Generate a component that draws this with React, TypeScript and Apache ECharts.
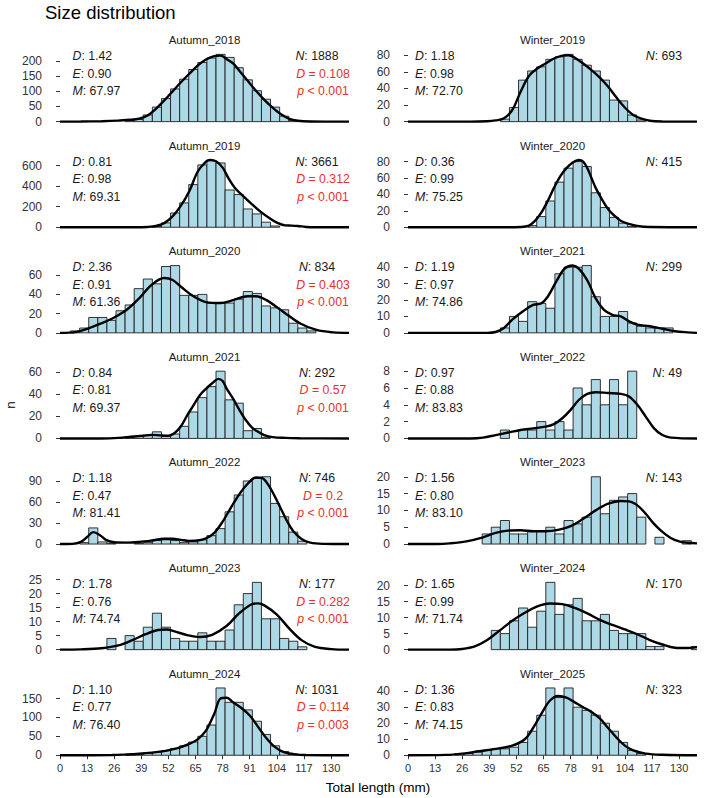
import { useEffect, useRef } from 'react';
import * as echarts from 'echarts';

const FONT = '"Liberation Sans", Arial, Helvetica, sans-serif';

// Histogram bin edges (mm) shared by every panel
const BIN_EDGES = [0.7, 5.06, 9.42, 13.78, 18.14, 22.5, 26.86, 31.22, 35.58, 39.94, 44.3, 48.66, 53.02, 57.38, 61.74, 66.1, 70.46, 74.82, 79.18, 83.54, 87.9, 92.26, 96.62, 100.98, 105.34, 109.7, 114.06, 118.42, 122.78, 127.14, 131.5, 135.86, 140.22];
const X_MIN = 0;
const X_MAX = 138.6;
const X_TICKS = [0, 13, 26, 39, 52, 65, 78, 91, 104, 117, 130];

const SAMPLES = [
  'Autumn_2018', 'Winter_2019',
  'Autumn_2019', 'Winter_2020',
  'Autumn_2020', 'Winter_2021',
  'Autumn_2021', 'Winter_2022',
  'Autumn_2022', 'Winter_2023',
  'Autumn_2023', 'Winter_2024',
  'Autumn_2024', 'Winter_2025',
];

// Fish counts per bin
const COUNTS_A2018 = [0, 0, 0, 0, 0, 0, 0, 4, 7, 22, 48, 76, 108, 140, 172, 195, 210, 222, 212, 178, 138, 102, 74, 48, 18, 4, 0, 0, 0, 0, 0, 0];
const COUNTS_W2019 = [0, 0, 0, 0, 0, 0, 0, 0, 0, 0, 3, 17, 50, 61, 66, 75, 78, 81, 75, 68, 61, 50, 26, 25, 8, 2, 0, 0, 0, 0, 0, 0];
const COUNTS_A2019 = [0, 0, 0, 0, 0, 0, 0, 0, 0, 0, 8, 42, 139, 237, 415, 607, 649, 626, 363, 318, 178, 130, 49, 12, 0, 0, 0, 0, 0, 0, 0, 0];
const COUNTS_W2020 = [0, 0, 0, 0, 0, 0, 0, 0, 0, 0, 0, 0, 0, 2, 13, 32, 55, 72, 80, 74, 42, 24, 12, 5, 1, 0, 0, 0, 0, 0, 0, 0];
const COUNTS_A2020 = [0, 2, 5, 16, 16, 13, 23, 29, 46, 56, 51, 69, 70, 39, 39, 40, 31, 31, 31, 35, 43, 41, 28, 26, 24, 10, 5, 2, 0, 0, 0, 0];
const COUNTS_W2021 = [0, 0, 0, 0, 0, 0, 0, 0, 0, 0, 3, 10, 7, 19, 18, 15, 36, 40, 40, 41, 22, 10, 10, 13, 6, 4, 3, 3, 3, 0, 0, 0];
const COUNTS_A2021 = [0, 0, 0, 0, 0, 0, 0, 1, 2, 3, 6, 2, 4, 11, 24, 37, 47, 61, 35, 32, 7, 9, 1, 0, 0, 0, 0, 0, 0, 0, 0, 0];
const COUNTS_W2022 = [0, 0, 0, 0, 0, 0, 0, 0, 0, 0, 1, 0, 1, 1, 2, 1, 2, 1, 6, 4, 7, 4, 7, 4, 8, 0, 0, 0, 0, 0, 0, 0];
const COUNTS_A2022 = [0, 0, 2, 23, 3, 1, 0, 0, 1, 2, 5, 6, 5, 2, 3, 6, 12, 22, 46, 70, 90, 94, 96, 58, 39, 17, 4, 0, 0, 0, 0, 0];
const COUNTS_W2023 = [0, 0, 0, 0, 0, 0, 0, 0, 3, 5, 7, 3, 3, 4, 4, 5, 3, 7, 6, 8, 20, 9, 13, 14, 15, 8, 0, 2, 0, 0, 1, 0];
const COUNTS_A2023 = [0, 0, 0, 0, 0, 4, 0, 5, 3, 8, 13, 8, 4, 3, 3, 6, 3, 3, 7, 16, 20, 24, 11, 11, 4, 3, 1, 0, 0, 0, 0, 0];
const COUNTS_W2024 = [0, 0, 0, 0, 0, 0, 0, 0, 0, 6, 5, 9, 13, 7, 12, 21, 11, 14, 16, 9, 9, 11, 6, 5, 5, 5, 1, 1, 0, 0, 0, 1];
const COUNTS_A2024 = [0, 0, 0, 0, 0, 0, 0, 2, 3, 6, 8, 12, 18, 25, 35, 50, 80, 178, 140, 140, 120, 90, 55, 25, 10, 3, 0, 0, 0, 0, 0, 0];
const COUNTS_W2025 = [0, 0, 0, 0, 0, 1, 1, 2, 3, 4, 4, 5, 8, 15, 25, 42, 36, 42, 30, 28, 25, 20, 15, 8, 3, 1, 0, 0, 0, 0, 0, 0];

// Kernel density curves, scaled to counts: [length, n]
const DENS_A2018 = [[0, 0], [10, 0.3], [20, 1.5], [28, 3.5], [34, 6], [38, 10], [42, 20], [46, 42], [50, 70], [54, 100], [58, 130], [62, 158], [66, 185], [70, 205], [74, 216], [77, 218], [80, 206], [83, 192], [86, 168], [90, 135], [94, 102], [98, 72], [102, 46], [106, 24], [110, 9], [114, 3], [120, 0.5], [130, 0], [138.6, 0]];
const DENS_W2019 = [[0, 0], [30, 0], [38, 0.5], [42, 1.5], [46, 4], [50, 14], [54, 36], [58, 55], [62, 64], [66, 70], [70, 76], [74, 79.5], [77, 80], [80, 77], [84, 70], [88, 62], [92, 53], [96, 42], [100, 29], [104, 17], [108, 8], [112, 3.5], [116, 1], [122, 0.2], [138.6, 0]];
const DENS_A2019 = [[0, 0], [36, 0], [42, 3], [46, 12], [50, 40], [54, 105], [58, 210], [62, 350], [66, 540], [70, 640], [72, 655], [75, 640], [78, 580], [81, 470], [84, 380], [88, 300], [92, 225], [96, 155], [100, 95], [104, 45], [108, 18], [111, 16], [114, 12], [118, 3], [124, 0.5], [138.6, 0]];
const DENS_W2020 = [[0, 0], [48, 0], [54, 0.3], [58, 2], [61, 8], [64, 18], [67, 32], [70, 48], [73, 62], [76, 72], [79, 79], [82, 82], [84, 80], [86, 72], [88, 60], [90, 48], [93, 34], [96, 22], [99, 14], [102, 8], [106, 4], [110, 1.5], [116, 0.3], [138.6, 0]];
const DENS_A2020 = [[0, 0], [8, 1], [14, 5], [20, 10], [26, 16], [32, 24], [38, 36], [44, 50], [50, 57], [54, 55], [58, 48], [64, 38], [70, 32], [77, 31], [83, 34], [90, 38], [94, 38], [99, 34], [107, 22], [115, 10], [123, 3], [131, 0.5], [138.6, 0]];
const DENS_W2021 = [[0, 0], [38, 0], [42, 0.5], [46, 3], [50, 8], [55, 13], [60, 17], [64, 18], [67, 22], [71, 31], [75, 39], [79, 41], [82, 39], [86, 32], [90, 21], [94, 14], [98, 11], [102, 10], [106, 7], [110, 5], [116, 4], [122, 2.5], [128, 1], [134, 0.3], [138.6, 0]];
const DENS_A2021 = [[0, 0], [20, 0], [28, 0.5], [34, 1.5], [40, 2.5], [44, 3.2], [48, 2.8], [52, 2.5], [55, 5], [58, 11], [61, 21], [64, 30], [67, 39], [70, 45], [73, 50], [76, 54], [78, 52], [80, 45], [83, 36], [86, 26], [89, 17], [92, 10], [95, 6], [98, 3], [102, 1.2], [108, 0.5], [115, 0.2], [138.6, 0]];
const DENS_W2022 = [[0, 0], [30, 0], [36, 0.1], [42, 0.4], [48, 0.7], [54, 1.0], [60, 1.2], [66, 1.4], [70, 1.7], [74, 2.4], [78, 3.4], [82, 4.6], [86, 5.3], [90, 5.5], [96, 5.4], [102, 5.3], [106, 5.0], [110, 4.0], [114, 2.6], [118, 1.2], [122, 0.4], [126, 0.1], [138.6, 0]];
const DENS_A2022 = [[0, 0], [6, 0.3], [10, 3], [13, 10], [16, 17], [19, 13], [22, 6], [26, 2.5], [32, 2], [38, 3], [44, 5], [50, 7.5], [54, 7.5], [58, 6], [62, 4.5], [66, 5], [70, 8], [74, 16], [78, 32], [82, 52], [86, 71], [90, 86], [94, 95], [97, 94], [100, 84], [103, 68], [106, 50], [109, 32], [112, 18], [116, 7], [120, 2], [126, 0.3], [138.6, 0]];
const DENS_W2023 = [[0, 0], [14, 0], [20, 0.2], [28, 0.8], [36, 2], [42, 3.3], [48, 4], [54, 4.1], [60, 3.8], [66, 3.8], [72, 4.2], [78, 5.3], [84, 7.5], [90, 10], [96, 12], [102, 12.8], [106, 12.7], [110, 11.5], [114, 9], [118, 6], [122, 3.6], [126, 1.8], [130, 0.8], [134, 0.4], [138.6, 0.2]];
const DENS_A2023 = [[0, 0], [10, 0.1], [20, 0.5], [28, 1.5], [35, 3.5], [41, 5.5], [47, 7], [51, 7.2], [55, 6.5], [61, 5.2], [67, 4.5], [73, 5.3], [80, 8.5], [86, 13], [92, 16.2], [95, 16.5], [98, 15.8], [104, 12.5], [110, 7.5], [116, 3.3], [122, 1.1], [130, 0.2], [138.6, 0]];
const DENS_W2024 = [[0, 0], [20, 0], [26, 0.2], [32, 1], [38, 3], [44, 6], [50, 9], [56, 11.5], [62, 13.5], [68, 14.4], [74, 14.2], [80, 13], [86, 11.3], [92, 9.3], [98, 7.7], [104, 6.3], [110, 4.8], [116, 3], [122, 1.6], [128, 0.6], [134, 0.5], [138.6, 0.8]];
const DENS_A2024 = [[0, 0], [25, 0.5], [32, 2], [38, 4], [44, 7], [50, 11], [56, 18], [62, 30], [66, 42], [70, 65], [74, 110], [77, 150], [80, 152], [83, 140], [87, 125], [91, 105], [95, 75], [99, 45], [103, 22], [107, 9], [112, 3], [118, 0.5], [138.6, 0]];
const DENS_W2025 = [[0, 0], [18, 0.2], [26, 1], [34, 2.5], [42, 4], [50, 6], [56, 10], [60, 17], [64, 26], [68, 34], [72, 37], [76, 36], [80, 33], [84, 30], [88, 27], [92, 23], [96, 17], [100, 11], [104, 6], [108, 3], [114, 1], [122, 0.3], [138.6, 0]];

// y tick values per panel
const Y_TICKS = [
  [0, 50, 100, 150, 200], [0, 20, 40, 60, 80],
  [0, 200, 400, 600], [0, 20, 40, 60, 80],
  [0, 20, 40, 60], [0, 10, 20, 30, 40],
  [0, 20, 40, 60], [0, 2, 4, 6, 8],
  [0, 30, 60, 90], [0, 5, 10, 15, 20],
  [0, 5, 10, 15, 20, 25], [0, 5, 10, 15, 20],
  [0, 50, 100, 150], [0, 10, 20, 30, 40],
];

// Per-sample statistics
const STAT_D = ['1.42', '1.18', '0.81', '0.36', '2.36', '1.19', '0.84', '0.97', '1.18', '1.56', '1.78', '1.65', '1.10', '1.36'];
const STAT_E = ['0.90', '0.98', '0.98', '0.99', '0.91', '0.97', '0.81', '0.88', '0.47', '0.80', '0.76', '0.99', '0.77', '0.83'];
const STAT_M = ['67.97', '72.70', '69.31', '75.25', '61.36', '74.86', '69.37', '83.83', '81.41', '83.10', '74.74', '71.74', '76.40', '74.15'];
const STAT_N = ['1888', '693', '3661', '415', '834', '299', '292', '49', '746', '143', '177', '170', '1031', '323'];
const KS_D = ['0.108', '', '0.312', '', '0.403', '', '0.57', '', '0.2', '', '0.282', '', '0.114', ''];
const KS_P = ['< 0.001', '', '< 0.001', '', '< 0.001', '', '< 0.001', '', '< 0.001', '', '< 0.001', '', '= 0.003', ''];

const COUNTS = [COUNTS_A2018, COUNTS_W2019, COUNTS_A2019, COUNTS_W2020, COUNTS_A2020, COUNTS_W2021, COUNTS_A2021, COUNTS_W2022, COUNTS_A2022, COUNTS_W2023, COUNTS_A2023, COUNTS_W2024, COUNTS_A2024, COUNTS_W2025];
const DENSITY = [DENS_A2018, DENS_W2019, DENS_A2019, DENS_W2020, DENS_A2020, DENS_W2021, DENS_A2021, DENS_W2022, DENS_A2022, DENS_W2023, DENS_A2023, DENS_W2024, DENS_A2024, DENS_W2025];

// Panel layout (px)
const COL_LEFT = [60, 408];
const PANEL_W = 289;
const PANEL_H = 74;
const ROW_TOP0 = 51;
const ROW_STEP = 105.6;
const STAT_X = [72.5, 415];
const N_X = [317, 682];
const N_ALIGN = ['center', 'right'];
const KS_X = 323;

const INK = '#1a1a1a';
const RED = '#e8302c';

function richText(x: number, y: number, text: string, color: string, align: string, size = 12.3) {
  return {
    type: 'text',
    x,
    y,
    silent: true,
    style: {
      text,
      fill: color,
      fontSize: size,
      fontFamily: FONT,
      align,
      verticalAlign: 'middle',
      rich: {
        i: { fontStyle: 'italic', fontSize: size, fontFamily: FONT, fill: color },
      },
    },
  };
}

function buildOption() {
  const grid: any[] = [];
  const xAxis: any[] = [];
  const yAxis: any[] = [];
  const series: any[] = [];
  const graphic: any[] = [];

  SAMPLES.forEach((name, i) => {
    const row = Math.floor(i / 2);
    const col = i % 2;
    const top = ROW_TOP0 + row * ROW_STEP;
    const left = COL_LEFT[col];
    const counts = COUNTS[i];
    const dens = DENSITY[i];
    const peak = Math.max(...counts, ...dens.map((d) => d[1]));
    const bottomRow = row === 6;

    grid.push({ left, top, width: PANEL_W, height: PANEL_H, containLabel: false, outerBoundsMode: 'none' });
    xAxis.push({
      type: 'value',
      gridIndex: i,
      min: X_MIN,
      max: X_MAX,
      axisLine: { show: false },
      splitLine: { show: false },
      axisTick: { show: bottomRow, customValues: X_TICKS, length: 4, lineStyle: { color: '#333', width: 1 } },
      axisLabel: { show: bottomRow, customValues: X_TICKS, fontSize: 11, color: '#333', margin: 4, fontFamily: FONT },
    });
    yAxis.push({
      type: 'value',
      gridIndex: i,
      min: -0.05 * peak,
      max: 1.05 * peak,
      offset: 15,
      axisLine: { show: false },
      splitLine: { show: false },
      axisTick: { show: true, customValues: Y_TICKS[i], length: 4, lineStyle: { color: '#333', width: 1 } },
      axisLabel: { customValues: Y_TICKS[i], fontSize: 12, color: '#333', margin: 3, fontFamily: FONT },
    });

    const bars = counts
      .map((c, k) => [BIN_EDGES[k], BIN_EDGES[k + 1], c])
      .filter((b) => b[2] > 0);

    series.push({
      type: 'custom',
      name,
      xAxisIndex: i,
      yAxisIndex: i,
      clip: true,
      encode: { x: [0, 1], y: 2 },
      data: bars,
      renderItem: (_params: any, api: any) => {
        const p0 = api.coord([api.value(0), api.value(2)]);
        const p1 = api.coord([api.value(1), 0]);
        return {
          type: 'rect',
          shape: { x: p0[0], y: p0[1], width: p1[0] - p0[0], height: p1[1] - p0[1] },
          style: { fill: '#add8e6', stroke: '#1e1e1e', lineWidth: 0.9 },
        };
      },
      z: 2,
    });
    series.push({
      type: 'line',
      xAxisIndex: i,
      yAxisIndex: i,
      data: dens,
      smooth: 0.35,
      symbol: 'none',
      clip: true,
      lineStyle: { color: '#000', width: 2.4 },
      z: 3,
    });

    // strip title
    graphic.push({
      type: 'text',
      x: left + PANEL_W / 2,
      y: top - 11,
      silent: true,
      style: { text: name, fill: INK, fontSize: 11.5, fontFamily: FONT, align: 'center', verticalAlign: 'middle' },
    });
    // diversity statistics
    graphic.push(richText(STAT_X[col], top + 5, `{i|D}: ${STAT_D[i]}`, INK, 'left'));
    graphic.push(richText(STAT_X[col], top + 22.5, `{i|E}: ${STAT_E[i]}`, INK, 'left'));
    graphic.push(richText(STAT_X[col], top + 40, `{i|M}: ${STAT_M[i]}`, INK, 'left'));
    graphic.push(richText(N_X[col], top + 5, `{i|N}: ${STAT_N[i]}`, INK, N_ALIGN[col]));
    if (KS_D[i]) {
      graphic.push(richText(KS_X, top + 22.5, `{i|D} = ${KS_D[i]}`, RED, 'center'));
      graphic.push(richText(KS_X, top + 40, `{i|p} ${KS_P[i]}`, RED, 'center'));
    }
  });

  graphic.push({
    type: 'text',
    x: 45,
    y: 12,
    silent: true,
    style: { text: 'Size distribution', fill: '#000', fontSize: 18.5, fontFamily: FONT, align: 'left', verticalAlign: 'middle' },
  });
  graphic.push({
    type: 'text',
    x: 10,
    y: 405,
    rotation: Math.PI / 2,
    silent: true,
    style: { text: 'n', fill: '#000', fontSize: 13.5, fontFamily: FONT, align: 'center', verticalAlign: 'middle' },
  });
  graphic.push({
    type: 'text',
    x: 378,
    y: 787,
    silent: true,
    style: { text: 'Total length (mm)', fill: '#000', fontSize: 13.5, fontFamily: FONT, align: 'center', verticalAlign: 'middle' },
  });

  return {
    animation: false,
    backgroundColor: '#fff',
    grid,
    xAxis,
    yAxis,
    series,
    graphic: { elements: graphic },
  };
}

export default function App() {
  const ref = useRef<HTMLDivElement>(null);
  useEffect(() => {
    if (!ref.current) return;
    const chart = echarts.init(ref.current, undefined, { renderer: 'svg' });
    chart.setOption(buildOption() as any);
    return () => chart.dispose();
  }, []);
  return <div ref={ref} style={{ position: 'absolute', left: 0, top: 0, width: 709, height: 798 }} />;
}
